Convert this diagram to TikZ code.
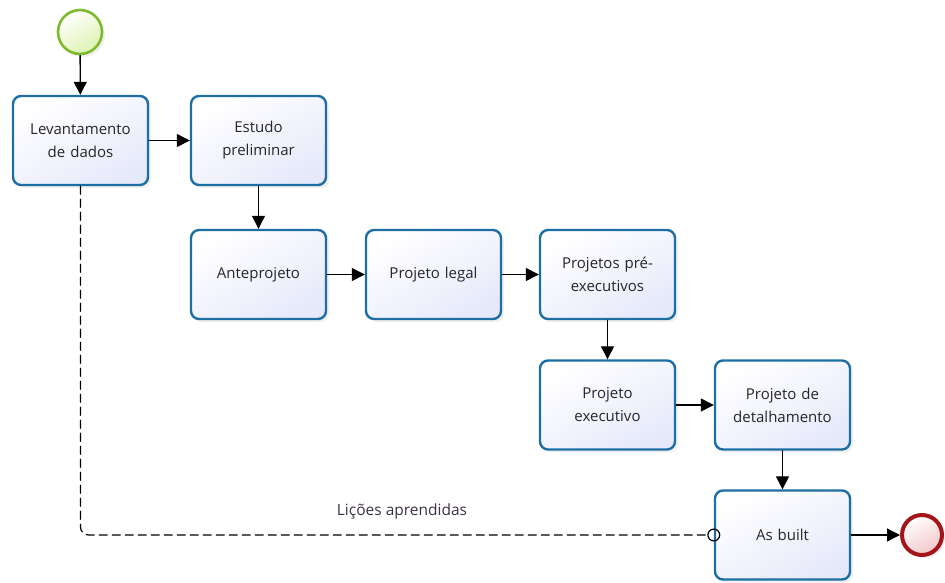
\documentclass[tikz,border=0pt]{standalone}
\usepackage{fontspec}
\setmainfont{Open Sans}
\usetikzlibrary{arrows.meta,shadows}
\definecolor{taskline}{HTML}{1D6FA3}
\definecolor{taskfill}{HTML}{E6E9FA}
\definecolor{startline}{HTML}{7DBB2C}
\definecolor{startfill}{HTML}{DDF2B0}
\definecolor{endline}{HTML}{A3151B}
\definecolor{endfill}{HTML}{F2C6C8}
\definecolor{labeltext}{HTML}{3B3048}

\tikzset{
	task/.style={draw=taskline,line width=2.4pt,rounded corners=8pt,minimum width=135pt,minimum height=89pt,
		align=center,text width=125pt,font=\fontsize{15}{23}\selectfont,text=black!85,
		top color=white,bottom color=taskfill,shading angle=30,
		drop shadow={opacity=0.12,shadow xshift=3pt,shadow yshift=-3pt}},
	startevent/.style={circle,draw=startline,line width=2.6pt,minimum size=44pt,inner sep=0pt,
		top color=white,bottom color=startfill,shading angle=30,
		drop shadow={opacity=0.12,shadow xshift=3pt,shadow yshift=-3pt}},
	endevent/.style={circle,draw=endline,line width=4pt,minimum size=40pt,inner sep=0pt,
		top color=white,bottom color=endfill,shading angle=30,
		drop shadow={opacity=0.12,shadow xshift=3pt,shadow yshift=-3pt}},
	flow/.style={line width=1.3pt,-{Triangle[length=13pt,width=13pt]}},
	assoc/.style={line width=1.2pt,dash pattern=on 8pt off 5pt,rounded corners=8pt,-{Circle[open,length=13pt,width=13pt,line width=1.2pt,sep=-6.5pt]}}
}

\begin{document}
\begin{tikzpicture}
			[line cap=round,line join=round,x=1pt,y=-1pt]
			\useasboundingbox (0,0) rectangle (945,583);
			% eventos
			\node[startevent] (inicio) at (80,32) {};
			\node[endevent] (fim) at (922,535) {};
			% tarefas
			\node[task] (levant) at (80.5,140.5) {Levantamento\\de dados};
			\node[task] (estudo) at (258.5,140.5) {Estudo\\preliminar};
			\node[task] (antep) at (258.5,274.5) {Anteprojeto};
			\node[task] (legal) at (433.5,274.5) {Projeto legal};
			\node[task] (preexec) at (607.5,274.5) {Projetos pré-\\executivos};
			\node[task] (exec) at (607.5,405) {Projeto\\executivo};
			\node[task] (detalh) at (782.5,405) {Projeto de\\detalhamento};
			\node[task] (asbuilt) at (782.5,535) {As built};
			% fluxos
			\draw[flow] (inicio) -- (levant);
			\draw[flow] (levant) -- (estudo);
			\draw[flow] (estudo) -- (antep);
			\draw[flow] (antep) -- (legal);
			\draw[flow] (legal) -- (preexec);
			\draw[flow] (preexec) -- (exec);
			\draw[flow] (exec) -- (detalh);
			\draw[flow] (detalh) -- (asbuilt);
			\draw[flow] (asbuilt) -- (fim);
			% associacao
			\draw[assoc] (levant.south) |- (asbuilt.west);
			\node[text=labeltext,font=\fontsize{15.5}{18}\selectfont] (licoes) at (402,511) {Lições aprendidas};
		\end{tikzpicture}
\end{document}
